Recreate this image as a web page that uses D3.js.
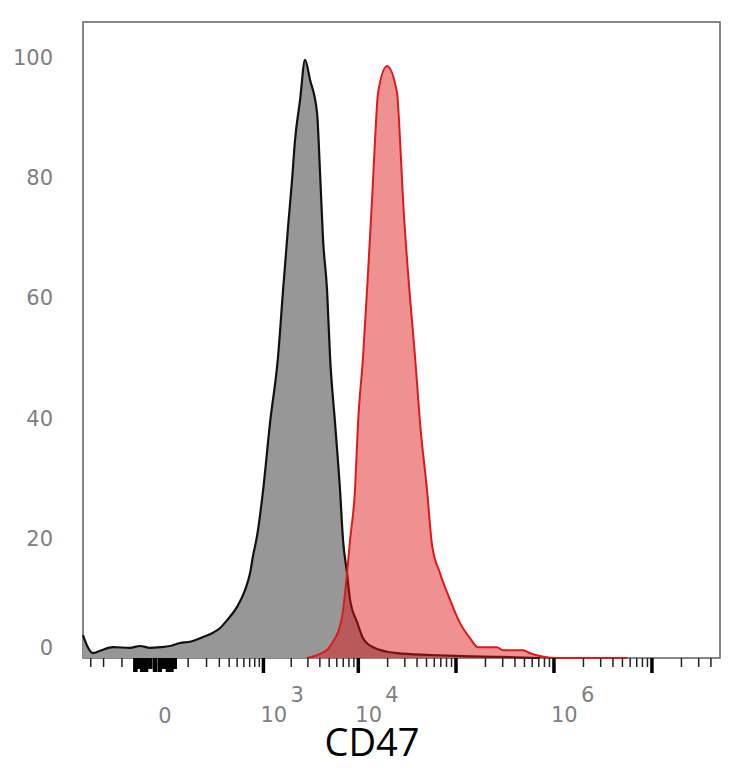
<!DOCTYPE html>
<html>
<head>
<meta charset="utf-8">
<script src="https://cdn.jsdelivr.net/npm/d3@7"></script>
<style>
  html, body { margin: 0; padding: 0; background: #fff; }
  svg { display: block; }
</style>
</head>
<body>
<div id="chart"></div>
<script>
// Isotype control (grey)
const isoValues = [-377, -325, -280, -224, -143, -68, -36, -11, 11, 36, 68, 108, 178, 247, 307, 377, 499, 619, 707, 765, 849, 990, 1182, 1444, 1636, 1850, 2040, 2196, 2480, 2799, 3158, 3739, 4020, 4319, 4752, 5106, 5752, 6480, 6959, 7653, 8218, 9699, 11190, 14170, 24970, 54320, 118100, 281700, 721000];
const isoCounts = [3.8, 1.7, 0.8, 1.2, 1.8, 1.7, 2.0, 1.7, 1.8, 2.0, 2.5, 2.7, 3.5, 4.2, 5.0, 6.3, 8.5, 11.3, 14.1, 17.0, 20.3, 27.8, 39.1, 50.1, 61.2, 71.7, 79.5, 86.2, 92.8, 99.5, 96.2, 90.7, 80.7, 69.6, 61.2, 50.1, 39.1, 27.9, 19.6, 14.1, 9.7, 6.0, 3.3, 1.8, 0.8, 0.5, 0.3, 0.2, 0];

// CD47 staining (red)
const cd47Values = [2938, 4020, 4867, 5483, 6178, 6795, 7653, 8218, 9248, 9937, 11190, 12590, 13840, 14860, 15950, 19720, 24970, 26790, 28760, 32350, 38160, 42930, 50610, 56940, 68710, 86930, 110000, 139100, 167900, 262500, 302200, 483700, 570200, 1075000, 5568000];
const cd47Counts = [0, 0.7, 1.5, 2.7, 4.3, 6.8, 14.1, 19.6, 28.0, 39.1, 50.1, 64.1, 76.2, 86.2, 94.0, 98.5, 94.0, 86.2, 76.2, 64.1, 50.1, 39.1, 27.9, 18.8, 14.1, 9.7, 5.8, 3.3, 1.8, 1.8, 1.3, 1.3, 0.8, 0, 0];

// Axis ticks and labels
const yTickValues = [0, 20, 40, 60, 80, 100];
const xMajorTicks = [1e3, 1e4, 1e5, 1e6, 1e7];
const xZeroTicks = [-50, -40, -30, -20, -10, 0, 10, 20, 30, 40, 50];
const xMinorLinear = [-300, -200, -100, 100, 200, 300, 400, 500, 600, 700, 800, 900];
const xMinorDecades = [1e3, 1e4, 1e5, 1e6];
const xMinorTail = [2e7, 3e7, 4e7];
const xLabelValues = [0, 1e3, 1e4, 1e6];
const xLabelExps = ["", "3", "4", "6"];
const xTitle = "CD47";

const W = 734, H = 768;
const plot = { left: 83, top: 22, right: 720, bottom: 658 };

const svg = d3.select('#chart').append('svg')
    .attr('width', W)
    .attr('height', H);

const x = d3.scaleSymlog()
    .constant(85)
    .domain([-377, 4.95e7])
    .range([plot.left, plot.right]);

const y = d3.scaleLinear()
    .domain([0, 105.8])
    .range([plot.bottom, plot.top]);

// minor ticks: 2..9 x each decade
const minorTicks = xMinorLinear.slice();
xMinorDecades.forEach(d => {
    for (let m = 2; m <= 9; m++) minorTicks.push(m * d);
});
xMinorTail.forEach(v => minorTicks.push(v));

// Frame
svg.append('rect')
    .attr('x', plot.left)
    .attr('y', plot.top)
    .attr('width', plot.right - plot.left)
    .attr('height', plot.bottom - plot.top)
    .attr('fill', 'none')
    .attr('stroke', '#6a6a6a')
    .attr('stroke-width', 1.6);

const isoData = isoValues.map((v, i) => ({ v, c: isoCounts[i] }));
const cd47Data = cd47Values.map((v, i) => ({ v, c: cd47Counts[i] }));

const area = d3.area()
    .x(d => x(d.v))
    .y0(y(0))
    .y1(d => y(d.c))
    .curve(d3.curveMonotoneX);

const line = d3.line()
    .x(d => x(d.v))
    .y(d => y(d.c))
    .curve(d3.curveMonotoneX);

// grey histogram
svg.append('path')
    .datum(isoData)
    .attr('d', area)
    .attr('fill', '#979797');
svg.append('path')
    .datum(isoData)
    .attr('d', line)
    .attr('fill', 'none')
    .attr('stroke', '#111')
    .attr('stroke-width', 2.2);

// red histogram (translucent, on top)
svg.append('path')
    .datum(cd47Data)
    .attr('d', area)
    .attr('fill', 'rgb(222,22,22)')
    .attr('fill-opacity', 0.47);
svg.append('path')
    .datum(cd47Data)
    .attr('d', line)
    .attr('fill', 'none')
    .attr('stroke', '#dc1a1a')
    .attr('stroke-width', 2);

// bottom axis ticks
const ticks = svg.append('g');
ticks.selectAll('.minor')
    .data(minorTicks)
    .enter()
    .append('line')
    .attr('x1', d => x(d))
    .attr('x2', d => x(d))
    .attr('y1', plot.bottom)
    .attr('y2', plot.bottom + 9)
    .attr('stroke', '#222')
    .attr('stroke-width', 1.5);

ticks.selectAll('.zero')
    .data(xZeroTicks)
    .enter()
    .append('line')
    .attr('x1', d => x(d))
    .attr('x2', d => x(d))
    .attr('y1', plot.bottom)
    .attr('y2', (d, i) => plot.bottom + (i % 3 === 1 ? 11 : 14))
    .attr('stroke', '#000')
    .attr('stroke-width', 4.5);

ticks.selectAll('.major')
    .data(xMajorTicks)
    .enter()
    .append('line')
    .attr('x1', d => x(d))
    .attr('x2', d => x(d))
    .attr('y1', plot.bottom)
    .attr('y2', plot.bottom + 15)
    .attr('stroke', '#000')
    .attr('stroke-width', 3.5);

// x labels
const labelFont = '"DejaVu Sans", sans-serif';
xLabelValues.forEach((v, i) => {
    if (xLabelExps[i] === "") {
        svg.append('text')
            .attr('x', x(v) + 10)
            .attr('y', 723)
            .attr('text-anchor', 'middle')
            .attr('font-family', labelFont)
            .attr('font-size', 21)
            .attr('fill', '#808080')
            .text('0');
    } else {
        svg.append('text')
            .attr('x', x(v) - 3)
            .attr('y', 722)
            .attr('font-family', labelFont)
            .attr('font-size', 21)
            .attr('fill', '#808080')
            .text('10');
        svg.append('text')
            .attr('x', x(v) + 27)
            .attr('y', 702)
            .attr('font-family', labelFont)
            .attr('font-size', 21)
            .attr('fill', '#808080')
            .text(xLabelExps[i]);
    }
});

// y labels
svg.selectAll('.ylab')
    .data(yTickValues)
    .enter()
    .append('text')
    .attr('x', 53)
    .attr('y', d => Math.min(y(d), plot.bottom - 11) + 8)
    .attr('text-anchor', 'end')
    .attr('font-family', labelFont)
    .attr('font-size', 21)
    .attr('fill', '#808080')
    .text(d => d);

// axis title
svg.append('text')
    .attr('x', 372)
    .attr('y', 756)
    .attr('text-anchor', 'middle')
    .attr('font-family', '"Open Sans", sans-serif')
    .attr('font-size', 38)
    .attr('fill', '#000')
    .text(xTitle);
</script>
</body>
</html>
